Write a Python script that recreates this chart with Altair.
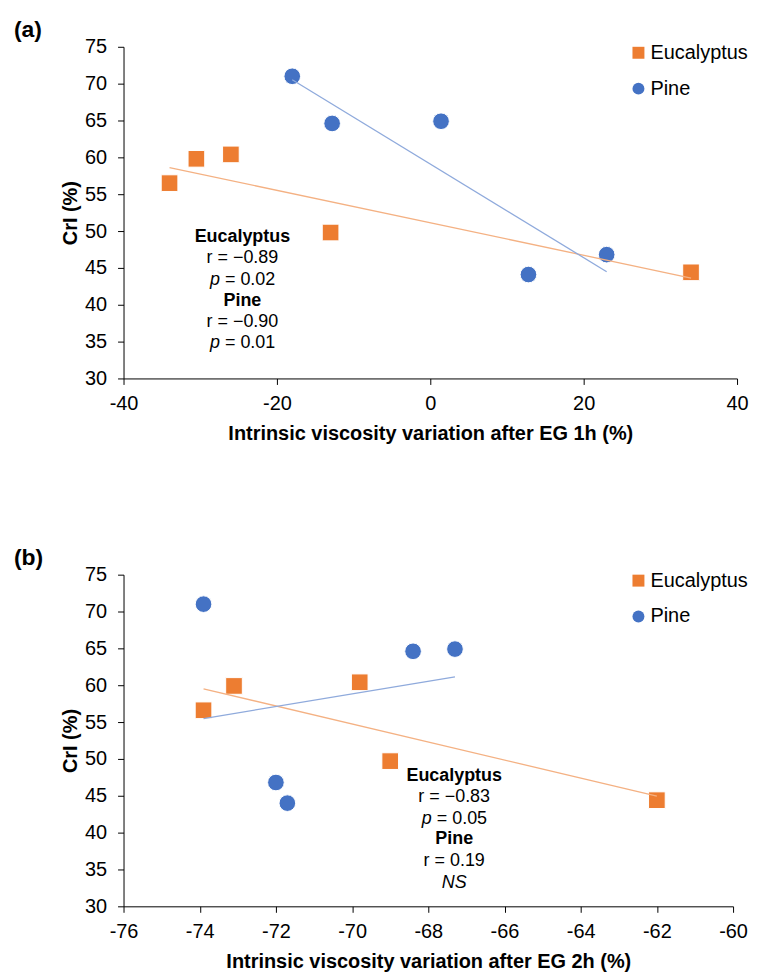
import altair as alt
import pandas as pd

FONT = "Liberation Sans"
species = ["Eucalyptus", "Pine"]
colors = ["#ED7D31", "#4472C4"]
line_colors = ["#F4B183", "#8FAADC"]
shapes = ["square", "circle"]

# Panel (a): intrinsic viscosity variation after EG 1h
a_euc_x = [-34.0, -30.5, -26.0, -13.0, 34.0]
a_euc_y = [56.5, 59.8, 60.4, 49.8, 44.4]
a_pine_x = [-18.0, -12.8, 1.4, 12.8, 23.0]
a_pine_y = [71.0, 64.6, 64.9, 44.1, 46.8]

# Panel (b): intrinsic viscosity variation after EG 2h
b_euc_x = [-73.9, -73.1, -69.8, -69.0, -62.0]
b_euc_y = [56.6, 59.9, 60.4, 49.7, 44.4]
b_pine_x = [-73.9, -72.0, -71.7, -68.4, -67.3]
b_pine_y = [71.0, 46.8, 44.0, 64.6, 64.9]

y_ticks = [30, 35, 40, 45, 50, 55, 60, 65, 70, 75]
a_x_ticks = [-40, -20, 0, 20, 40]
b_x_ticks = [-76, -74, -72, -70, -68, -66, -64, -62, -60]

# annotation blocks (x centre, y of each line)
a_ann_x = -24.5
a_ann_y = [49.15, 46.35, 43.42, 40.54, 37.70, 34.77]
a_ann_text = ["Eucalyptus", "r = \u22120.89", "p = 0.02", "Pine", "r = \u22120.90", "p = 0.01"]
b_ann_x = -67.32
b_ann_y = [47.73, 44.81, 41.88, 39.18, 36.19, 33.22]
b_ann_text = ["Eucalyptus", "r = \u22120.83", "p = 0.05", "Pine", "r = 0.19", "NS"]


def make_df(ex, ey, px, py):
    return pd.DataFrame({
        "x": ex + px,
        "y": ey + py,
        "species": ["Eucalyptus"] * len(ex) + ["Pine"] * len(px),
    })


def panel(df, xdom, xticks, xtitle, width, label, ann_x, ann_y, ann_text, last_italic,
          title_pad):
    xenc = alt.X("x:Q", scale=alt.Scale(domain=xdom, nice=False, zero=False),
                 axis=alt.Axis(values=xticks, title=xtitle, labelFlush=False,
                               labelOverlap=False, tickSize=6, labelPadding=9,
                               titlePadding=title_pad, labelExpr="toString(datum.value)"))
    yenc = alt.Y("y:Q", scale=alt.Scale(domain=[30, 75], nice=False, zero=False),
                 axis=alt.Axis(values=y_ticks, title="CrI (%)", tickSize=6,
                               labelPadding=11, titlePadding=4, labelFlush=False,
                               labelOverlap=False, labelExpr="toString(datum.value)"))
    leg = alt.Legend(title=None, orient="none", legendX=507, legendY=-4,
                     symbolSize=144, labelFontSize=20, labelFont=FONT,
                     rowPadding=16, labelOffset=2, padding=0,
                     symbolStrokeWidth=0, labelColor="black")
    pts = alt.Chart(df).mark_point(filled=True, opacity=1, size=280,
                                   stroke="white", strokeWidth=1).encode(
        x=xenc, y=yenc,
        color=alt.Color("species:N", scale=alt.Scale(domain=species, range=colors), legend=leg),
        shape=alt.Shape("species:N", scale=alt.Scale(domain=species, range=shapes), legend=leg),
    )
    lines = []
    for sp, lc in zip(species, line_colors):
        lines.append(
            alt.Chart(df).transform_filter(alt.datum.species == sp)
            .transform_regression("x", "y")
            .mark_line(color=lc, strokeWidth=1.3)
            .encode(x=xenc, y=yenc)
        )
    ann = pd.DataFrame({"x": [ann_x] * 6, "y": ann_y, "text": ann_text,
                        "kind": ["bold", "reg", "p", "bold", "reg", "p"]})
    if last_italic:
        ann.loc[5, "kind"] = "ital"
    ann["rest"] = ann["text"].str.replace("p ", "", n=1, regex=False)

    base = alt.Chart(ann).encode(x=xenc, y=yenc)
    t_bold = base.transform_filter(alt.datum.kind == "bold").mark_text(
        font=FONT, fontSize=18, fontWeight="bold", color="black").encode(text="text:N")
    t_reg = base.transform_filter(alt.datum.kind == "reg").mark_text(
        font=FONT, fontSize=18, color="black").encode(text="text:N")
    t_ital = base.transform_filter(alt.datum.kind == "ital").mark_text(
        font=FONT, fontSize=18, fontStyle="italic", color="black").encode(text="text:N")
    t_p = base.transform_filter(alt.datum.kind == "p").mark_text(
        font=FONT, fontSize=18, fontStyle="italic", color="black", align="left",
        dx=-32.5).encode(text=alt.value("p"))
    t_prest = base.transform_filter(alt.datum.kind == "p").mark_text(
        font=FONT, fontSize=18, color="black", align="left",
        dx=-17.5).encode(text="rest:N")

    lab = alt.Chart(pd.DataFrame({"label": [label]})).mark_text(
        font=FONT, fontSize=23, fontWeight="bold", align="left", baseline="middle",
        color="black").encode(x=alt.value(-110), y=alt.value(-17), text="label:N")

    return alt.layer(pts, *lines, t_bold, t_reg, t_ital, t_p, t_prest, lab).properties(
        width=width, height=333)


pa = panel(make_df(a_euc_x, a_euc_y, a_pine_x, a_pine_y), [-40, 40], a_x_ticks,
           "Intrinsic viscosity variation after EG 1h (%)", 616, "(a)",
           a_ann_x, a_ann_y, a_ann_text, False, 10)
pb = panel(make_df(b_euc_x, b_euc_y, b_pine_x, b_pine_y), [-76, -60], b_x_ticks,
           "Intrinsic viscosity variation after EG 2h (%)", 612, "(b)",
           b_ann_x, b_ann_y, b_ann_text, True, 10)

chart = alt.vconcat(pa, pb, spacing=104).resolve_scale(
    x="independent", y="independent", color="independent", shape="independent"
).resolve_legend(color="independent", shape="independent").properties(
    padding={"left": 6, "top": 9, "right": 0, "bottom": 0}
).configure_view(stroke=None).configure_axis(
    grid=False, labelFont=FONT, titleFont=FONT, labelFontSize=20, titleFontSize=20,
    labelColor="black", titleColor="black", domainColor="black", tickColor="black",
    domainWidth=1, tickWidth=1, titleFontWeight="bold"
)

chart.save("out.html", embed_options={"renderer": "svg", "actions": False})
